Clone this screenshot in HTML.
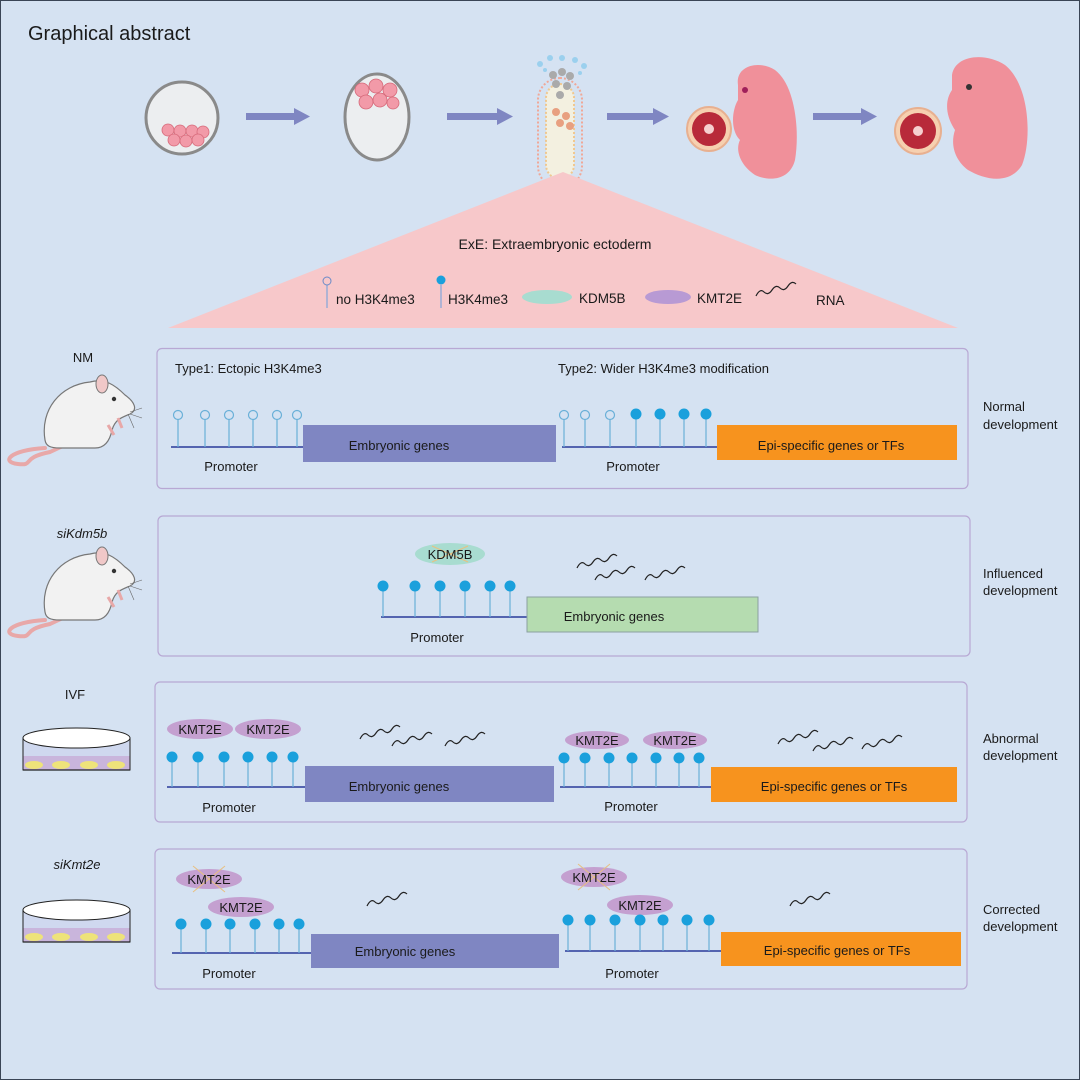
<!DOCTYPE html>
<html><head><meta charset="utf-8"><style>
html,body{margin:0;padding:0;background:#d5e2f2}
svg{display:block}
text{font-family:"Liberation Sans",sans-serif;fill:#1a1a1a}
</style></head><body>
<svg width="1080" height="1080" viewBox="0 0 1080 1080" xmlns="http://www.w3.org/2000/svg">
<defs>
<g id="mouse">
 <path d="M55,448 C20,450 10,462 28,464 C45,466 30,458 60,452 L75,445" fill="none" stroke="#e8a8a8" stroke-width="4" stroke-linecap="round"/>
 <path d="M55,440 C50,410 70,385 100,382 C115,378 125,385 135,395 C145,402 148,410 140,414 C130,418 125,420 122,430 C120,440 115,448 105,448 L70,448 C60,448 56,446 55,440 Z" fill="#f2f2f2" stroke="#777" stroke-width="1.2"/>
 <ellipse cx="112" cy="384" rx="6" ry="9" fill="#f0c8c8" stroke="#777" stroke-width="1"/>
 <circle cx="124" cy="399" r="2.2" fill="#333"/>
 <path d="M118,425 l6,10 M128,418 l4,10" stroke="#e8a8a8" stroke-width="3"/>
 <path d="M140,412 l12,-4 M140,414 l12,4 M138,414 l6,14" stroke="#666" stroke-width="0.6"/>
</g>
<g id="dish">
 <rect x="23" y="738" width="107" height="32" fill="#cfd8ef" stroke="#222" stroke-width="1"/>
 <rect x="23.5" y="756" width="106" height="13.5" fill="#c9b5dc"/>
 <ellipse cx="34" cy="765" rx="9" ry="4" fill="#eee37a"/><ellipse cx="61" cy="765" rx="9" ry="4" fill="#eee37a"/><ellipse cx="89" cy="765" rx="9" ry="4" fill="#eee37a"/><ellipse cx="116" cy="765" rx="9" ry="4" fill="#eee37a"/>
 <line x1="23" y1="770" x2="130" y2="770" stroke="#222" stroke-width="1.2"/>
 <ellipse cx="76.5" cy="738" rx="53.5" ry="10" fill="#fff" stroke="#222" stroke-width="1"/>
</g>
<path id="wave" d="M0,6 q4,-8 8,-4 t8,-2 t8,-2 t8,-2 t8,-2" fill="none" stroke="#222" stroke-width="1.2"/>
</defs>

<rect x="0.5" y="0.5" width="1079" height="1079" fill="#d5e2f2" stroke="#3a4556" stroke-width="1"/>
<text x="28" y="40" font-size="20">Graphical abstract</text>

<!-- embryos -->
<circle cx="182" cy="118" r="36" fill="#eceef0" stroke="#8a8a8a" stroke-width="3"/>
<g fill="#f29aa8" stroke="#d66a7a" stroke-width="0.8"><circle cx="168" cy="130" r="6"/><circle cx="180" cy="131" r="6"/><circle cx="192" cy="131" r="6"/><circle cx="203" cy="132" r="6"/><circle cx="174" cy="140" r="6"/><circle cx="186" cy="141" r="6"/><circle cx="198" cy="140" r="6"/></g>
<ellipse cx="377" cy="117" rx="32" ry="43" fill="#eceef0" stroke="#8a8a8a" stroke-width="3"/>
<g fill="#f29aa8" stroke="#d66a7a" stroke-width="0.8"><circle cx="362" cy="90" r="7"/><circle cx="376" cy="86" r="7"/><circle cx="390" cy="90" r="7"/><circle cx="366" cy="102" r="7"/><circle cx="380" cy="100" r="7"/><circle cx="393" cy="103" r="6"/></g>
<rect x="538" y="78" width="44" height="110" rx="22" fill="none" stroke="#f0a898" stroke-width="2" stroke-dasharray="2 2"/>
<rect x="546" y="84" width="28" height="95" rx="14" fill="#f3f0e0" stroke="#f0c890" stroke-width="2" stroke-dasharray="2 2"/>
<g fill="#aaa"><circle cx="553" cy="75" r="4"/><circle cx="562" cy="72" r="4"/><circle cx="570" cy="76" r="4"/><circle cx="556" cy="84" r="4"/><circle cx="567" cy="86" r="4"/><circle cx="560" cy="95" r="4"/></g>
<g fill="#e8a080"><circle cx="556" cy="112" r="4"/><circle cx="566" cy="116" r="4"/><circle cx="560" cy="123" r="4"/><circle cx="570" cy="126" r="4"/></g>
<g fill="#9bd0ee"><circle cx="540" cy="64" r="3"/><circle cx="550" cy="58" r="3"/><circle cx="562" cy="58" r="3"/><circle cx="575" cy="60" r="3"/><circle cx="584" cy="66" r="3"/><circle cx="545" cy="70" r="2"/><circle cx="580" cy="73" r="2"/></g>
<g fill="#7f86c2"><rect x="246" y="113" width="48" height="7"/><path d="M294,108 L310,116.5 L294,125Z"/>
<rect x="447" y="113" width="50" height="7"/><path d="M497,108 L513,116.5 L497,125Z"/>
<rect x="607" y="113" width="46" height="7"/><path d="M653,108 L669,116.5 L653,125Z"/>
<rect x="813" y="113" width="48" height="7"/><path d="M861,108 L877,116.5 L861,125Z"/></g>
<!-- fetuses -->
<circle cx="709" cy="129" r="22" fill="#f6d0b0" stroke="#e8b090" stroke-width="2"/><circle cx="709" cy="129" r="17" fill="#b82a3a"/><circle cx="709" cy="129" r="5" fill="#f6d0d0"/>
<path d="M738,85 C735,65 760,60 775,70 C795,85 800,130 795,160 C790,180 770,182 755,175 C740,165 735,150 740,140 C730,130 732,110 738,100 Z" fill="#f0909a"/>
<circle cx="745" cy="90" r="3" fill="#a0205a"/>
<circle cx="918" cy="131" r="23" fill="#f6d0b0" stroke="#e8b090" stroke-width="2"/><circle cx="918" cy="131" r="18" fill="#b82a3a"/><circle cx="918" cy="131" r="5" fill="#f6d0d0"/>
<path d="M952,75 C955,55 985,52 1005,65 C1030,85 1032,140 1022,165 C1010,185 985,180 968,170 C955,160 950,145 955,130 C945,115 945,100 952,90 Z" fill="#f0909a"/>
<circle cx="969" cy="87" r="3" fill="#333"/>

<!-- triangle -->
<path d="M563,172 L958,328 L168,328 Z" fill="#f7c8ca"/>
<text x="555" y="249" font-size="14" text-anchor="middle">ExE: Extraembryonic ectoderm</text>
<line x1="327" y1="285" x2="327" y2="308" stroke="#8aa8d8" stroke-width="1.3"/><circle cx="327" cy="281" r="4" fill="#f7c8ca" stroke="#6a8ac8"/>
<text x="336" y="304" font-size="13.5">no H3K4me3</text>
<line x1="441" y1="285" x2="441" y2="308" stroke="#8aa8d8" stroke-width="1.3"/><circle cx="441" cy="280" r="4.5" fill="#1aa0dc"/>
<text x="448" y="304" font-size="13.5">H3K4me3</text>
<ellipse cx="547" cy="297" rx="25" ry="7" fill="#a8dcd0"/>
<text x="579" y="303" font-size="13.5">KDM5B</text>
<ellipse cx="668" cy="297" rx="23" ry="7" fill="#b89ad4"/>
<text x="697" y="303" font-size="13.5">KMT2E</text>
<use href="#wave" x="756" y="290"/>
<text x="816" y="305" font-size="13.5">RNA</text>

<!-- Panel 1 -->
<use href="#mouse" x="-10" y="0"/>
<text x="83" y="362" font-size="13" text-anchor="middle">NM</text>
<rect x="157" y="348.5" width="811" height="140" rx="5" fill="#d5e2f2" stroke="#b8a8d4" stroke-width="1.2"/>
<text x="175" y="373" font-size="13">Type1: Ectopic H3K4me3</text>
<text x="558" y="373" font-size="13">Type2: Wider H3K4me3 modification</text>
<line x1="171" y1="447" x2="303" y2="447" stroke="#2a3a9a" stroke-width="1.5"/>
<g stroke="#6ab0d8" stroke-width="1.2" fill="#d5e2f2">
<line x1="178" y1="419" x2="178" y2="447"/><circle cx="178" cy="415" r="4.5"/>
<line x1="205" y1="419" x2="205" y2="447"/><circle cx="205" cy="415" r="4.5"/>
<line x1="229" y1="419" x2="229" y2="447"/><circle cx="229" cy="415" r="4.5"/>
<line x1="253" y1="419" x2="253" y2="447"/><circle cx="253" cy="415" r="4.5"/>
<line x1="277" y1="419" x2="277" y2="447"/><circle cx="277" cy="415" r="4.5"/>
<line x1="297" y1="419" x2="297" y2="447"/><circle cx="297" cy="415" r="4.5"/>
</g>
<rect x="303" y="425" width="253" height="37" fill="#7f86c2"/>
<text x="399" y="450" font-size="13" text-anchor="middle">Embryonic genes</text>
<text x="231" y="471" font-size="13" text-anchor="middle">Promoter</text>
<line x1="562" y1="447" x2="717" y2="447" stroke="#2a3a9a" stroke-width="1.5"/>
<g stroke="#6ab0d8" stroke-width="1.2" fill="#d5e2f2">
<line x1="564" y1="419" x2="564" y2="447"/><circle cx="564" cy="415" r="4.5"/>
<line x1="585" y1="419" x2="585" y2="447"/><circle cx="585" cy="415" r="4.5"/>
<line x1="610" y1="419" x2="610" y2="447"/><circle cx="610" cy="415" r="4.5"/>
<line x1="636" y1="419" x2="636" y2="447"/><line x1="660" y1="419" x2="660" y2="447"/><line x1="684" y1="419" x2="684" y2="447"/><line x1="706" y1="419" x2="706" y2="447"/>
</g>
<g fill="#1aa0dc"><circle cx="636" cy="414" r="5.5"/><circle cx="660" cy="414" r="5.5"/><circle cx="684" cy="414" r="5.5"/><circle cx="706" cy="414" r="5.5"/></g>
<rect x="717" y="425" width="240" height="35" fill="#f7931e"/>
<text x="831" y="450" font-size="13" text-anchor="middle">Epi-specific genes or TFs</text>
<text x="633" y="471" font-size="13" text-anchor="middle">Promoter</text>
<text x="983" y="411" font-size="13">Normal</text><text x="983" y="429" font-size="13">development</text>

<!-- Panel 2 -->
<use href="#mouse" x="-10" y="172"/>
<text x="82" y="538" font-size="13" text-anchor="middle" font-style="italic">siKdm5b</text>
<rect x="158" y="516" width="812" height="140" rx="5" fill="#d5e2f2" stroke="#b8a8d4" stroke-width="1.2"/>
<ellipse cx="450" cy="554" rx="35" ry="11" fill="#a8dcd0"/>
<path d="M432,546 L468,562 M468,546 L432,562" stroke="#e8c080" stroke-width="1"/>
<text x="450" y="559" font-size="13" text-anchor="middle">KDM5B</text>
<line x1="381" y1="617" x2="527" y2="617" stroke="#2a3a9a" stroke-width="1.5"/>
<g stroke="#6ab0d8" stroke-width="1.2"><line x1="383" y1="587" x2="383" y2="617"/><line x1="415" y1="587" x2="415" y2="617"/><line x1="440" y1="587" x2="440" y2="617"/><line x1="465" y1="587" x2="465" y2="617"/><line x1="490" y1="587" x2="490" y2="617"/><line x1="510" y1="587" x2="510" y2="617"/></g>
<g fill="#1aa0dc"><circle cx="383" cy="586" r="5.5"/><circle cx="415" cy="586" r="5.5"/><circle cx="440" cy="586" r="5.5"/><circle cx="465" cy="586" r="5.5"/><circle cx="490" cy="586" r="5.5"/><circle cx="510" cy="586" r="5.5"/></g>
<rect x="527" y="597" width="231" height="35" fill="#b5dcb0" stroke="#8aa0a0" stroke-width="1"/>
<text x="614" y="621" font-size="13" text-anchor="middle">Embryonic genes</text>
<text x="437" y="642" font-size="13" text-anchor="middle">Promoter</text>
<use href="#wave" x="577" y="562"/><use href="#wave" x="595" y="574"/><use href="#wave" x="645" y="574"/>
<text x="983" y="578" font-size="13">Influenced</text><text x="983" y="595" font-size="13">development</text>

<!-- Panel 3 -->
<use href="#dish"/>
<text x="75" y="699" font-size="13" text-anchor="middle">IVF</text>
<rect x="155" y="682" width="812" height="140" rx="5" fill="#d5e2f2" stroke="#b8a8d4" stroke-width="1.2"/>
<ellipse cx="200" cy="729" rx="33" ry="10" fill="#c4a0d0"/><text x="200" y="734" font-size="13" text-anchor="middle">KMT2E</text>
<ellipse cx="268" cy="729" rx="33" ry="10" fill="#c4a0d0"/><text x="268" y="734" font-size="13" text-anchor="middle">KMT2E</text>
<line x1="167" y1="787" x2="305" y2="787" stroke="#2a3a9a" stroke-width="1.5"/>
<g stroke="#6ab0d8" stroke-width="1.2"><line x1="172" y1="758" x2="172" y2="787"/><line x1="198" y1="758" x2="198" y2="787"/><line x1="224" y1="758" x2="224" y2="787"/><line x1="248" y1="758" x2="248" y2="787"/><line x1="272" y1="758" x2="272" y2="787"/><line x1="293" y1="758" x2="293" y2="787"/></g>
<g fill="#1aa0dc"><circle cx="172" cy="757" r="5.5"/><circle cx="198" cy="757" r="5.5"/><circle cx="224" cy="757" r="5.5"/><circle cx="248" cy="757" r="5.5"/><circle cx="272" cy="757" r="5.5"/><circle cx="293" cy="757" r="5.5"/></g>
<rect x="305" y="766" width="249" height="36" fill="#7f86c2"/>
<text x="399" y="791" font-size="13" text-anchor="middle">Embryonic genes</text>
<text x="229" y="812" font-size="13" text-anchor="middle">Promoter</text>
<use href="#wave" x="360" y="733"/><use href="#wave" x="392" y="740"/><use href="#wave" x="445" y="740"/>
<ellipse cx="597" cy="740" rx="32" ry="9" fill="#c4a0d0"/><text x="597" y="745" font-size="13" text-anchor="middle">KMT2E</text>
<ellipse cx="675" cy="740" rx="32" ry="9" fill="#c4a0d0"/><text x="675" y="745" font-size="13" text-anchor="middle">KMT2E</text>
<line x1="560" y1="787" x2="717" y2="787" stroke="#2a3a9a" stroke-width="1.5"/>
<g stroke="#6ab0d8" stroke-width="1.2"><line x1="564" y1="759" x2="564" y2="787"/><line x1="585" y1="759" x2="585" y2="787"/><line x1="609" y1="759" x2="609" y2="787"/><line x1="632" y1="759" x2="632" y2="787"/><line x1="656" y1="759" x2="656" y2="787"/><line x1="679" y1="759" x2="679" y2="787"/><line x1="699" y1="759" x2="699" y2="787"/></g>
<g fill="#1aa0dc"><circle cx="564" cy="758" r="5.5"/><circle cx="585" cy="758" r="5.5"/><circle cx="609" cy="758" r="5.5"/><circle cx="632" cy="758" r="5.5"/><circle cx="656" cy="758" r="5.5"/><circle cx="679" cy="758" r="5.5"/><circle cx="699" cy="758" r="5.5"/></g>
<rect x="711" y="767" width="246" height="35" fill="#f7931e"/>
<text x="834" y="791" font-size="13" text-anchor="middle">Epi-specific genes or TFs</text>
<text x="631" y="811" font-size="13" text-anchor="middle">Promoter</text>
<use href="#wave" x="778" y="738"/><use href="#wave" x="813" y="745"/><use href="#wave" x="862" y="743"/>
<text x="983" y="743" font-size="13">Abnormal</text><text x="983" y="760" font-size="13">development</text>

<!-- Panel 4 -->
<use href="#dish" y="172"/>
<text x="77" y="869" font-size="13" text-anchor="middle" font-style="italic">siKmt2e</text>
<rect x="155" y="849" width="812" height="140" rx="5" fill="#d5e2f2" stroke="#b8a8d4" stroke-width="1.2"/>
<ellipse cx="209" cy="879" rx="33" ry="10" fill="#c4a0d0"/>
<path d="M193,866 L225,892 M225,866 L193,892" stroke="#e8c080" stroke-width="1"/>
<text x="209" y="884" font-size="13" text-anchor="middle">KMT2E</text>
<ellipse cx="241" cy="907" rx="33" ry="10" fill="#c4a0d0"/><text x="241" y="912" font-size="13" text-anchor="middle">KMT2E</text>
<line x1="172" y1="953" x2="311" y2="953" stroke="#2a3a9a" stroke-width="1.5"/>
<g stroke="#6ab0d8" stroke-width="1.2"><line x1="181" y1="925" x2="181" y2="953"/><line x1="206" y1="925" x2="206" y2="953"/><line x1="230" y1="925" x2="230" y2="953"/><line x1="255" y1="925" x2="255" y2="953"/><line x1="279" y1="925" x2="279" y2="953"/><line x1="299" y1="925" x2="299" y2="953"/></g>
<g fill="#1aa0dc"><circle cx="181" cy="924" r="5.5"/><circle cx="206" cy="924" r="5.5"/><circle cx="230" cy="924" r="5.5"/><circle cx="255" cy="924" r="5.5"/><circle cx="279" cy="924" r="5.5"/><circle cx="299" cy="924" r="5.5"/></g>
<rect x="311" y="934" width="248" height="34" fill="#7f86c2"/>
<text x="405" y="956" font-size="13" text-anchor="middle">Embryonic genes</text>
<text x="229" y="978" font-size="13" text-anchor="middle">Promoter</text>
<use href="#wave" x="367" y="900"/>
<ellipse cx="594" cy="877" rx="33" ry="10" fill="#c4a0d0"/>
<path d="M578,864 L610,890 M610,864 L578,890" stroke="#e8c080" stroke-width="1"/>
<text x="594" y="882" font-size="13" text-anchor="middle">KMT2E</text>
<ellipse cx="640" cy="905" rx="33" ry="10" fill="#c4a0d0"/><text x="640" y="910" font-size="13" text-anchor="middle">KMT2E</text>
<line x1="565" y1="951" x2="721" y2="951" stroke="#2a3a9a" stroke-width="1.5"/>
<g stroke="#6ab0d8" stroke-width="1.2"><line x1="568" y1="921" x2="568" y2="951"/><line x1="590" y1="921" x2="590" y2="951"/><line x1="615" y1="921" x2="615" y2="951"/><line x1="640" y1="921" x2="640" y2="951"/><line x1="663" y1="921" x2="663" y2="951"/><line x1="687" y1="921" x2="687" y2="951"/><line x1="709" y1="921" x2="709" y2="951"/></g>
<g fill="#1aa0dc"><circle cx="568" cy="920" r="5.5"/><circle cx="590" cy="920" r="5.5"/><circle cx="615" cy="920" r="5.5"/><circle cx="640" cy="920" r="5.5"/><circle cx="663" cy="920" r="5.5"/><circle cx="687" cy="920" r="5.5"/><circle cx="709" cy="920" r="5.5"/></g>
<rect x="721" y="932" width="240" height="34" fill="#f7931e"/>
<text x="837" y="955" font-size="13" text-anchor="middle">Epi-specific genes or TFs</text>
<text x="632" y="978" font-size="13" text-anchor="middle">Promoter</text>
<use href="#wave" x="790" y="900"/>
<text x="983" y="914" font-size="13">Corrected</text><text x="983" y="931" font-size="13">development</text>
</svg>
</body></html>
